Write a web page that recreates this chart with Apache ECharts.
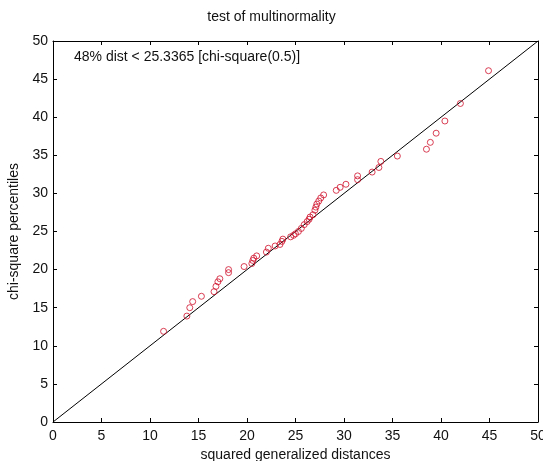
<!DOCTYPE html>
<html>
<head>
<meta charset="utf-8">
<script src="https://cdn.jsdelivr.net/npm/echarts@6/dist/echarts.min.js"></script>
<style>html,body{margin:0;padding:0;background:#fff;}#c{width:543px;height:461px;}</style>
</head>
<body>
<div id="c"></div>
<script>
const distances = [11.4,13.8,14.1,14.4,15.3,16.6,16.8,17.0,17.2,18.1,18.1,19.7,20.5,20.6,20.7,21.0,22.0,22.2,22.9,23.4,23.6,23.7,24.5,24.8,25.0,25.3,25.6,25.9,26.2,26.4,26.5,26.8,27.0,27.1,27.2,27.4,27.6,27.9,29.2,29.6,30.2,31.4,31.4,32.9,33.6,33.8,35.5,38.5,38.9,39.5,40.4,42.0,44.9];
const percentiles = [11.9,13.9,15.0,15.8,16.5,17.1,17.8,18.4,18.8,19.6,20.0,20.4,20.8,21.2,21.5,21.8,22.3,22.8,23.1,23.3,23.7,24.0,24.3,24.5,24.7,25.0,25.4,25.9,26.3,26.6,26.9,27.2,27.8,28.2,28.6,29.0,29.4,29.8,30.4,30.8,31.2,31.8,32.3,32.8,33.4,34.2,34.9,35.8,36.7,37.9,39.5,41.8,46.1];
const refLine = [[0,0],[50,50]];
const ticks = [0,5,10,15,20,25,30,35,40,45,50];

const font = 'Liberation Sans, Arial, sans-serif';
const fs = 14;
const chart = echarts.init(document.getElementById('c'));
const baseAxis = {
  min: 0, max: 50, interval: 5,
  axisLine: {show: true, onZero: false, lineStyle: {color: '#000', width: 1}},
  axisTick: {show: true, inside: true, length: 4, lineStyle: {color: '#000'}},
  splitLine: {show: false},
  axisLabel: {color: '#111', fontFamily: font, fontSize: fs}
};
chart.setOption({
  animation: false,
  backgroundColor: '#fff',
  title: [
    {text: 'test of multinormality', left: 'center', top: 5, textStyle: {fontFamily: font, fontSize: fs, fontWeight: 'normal', color: '#111'}},
    {text: '48% dist < 25.3365 [chi-square(0.5)]', left: 69, top: 45, textStyle: {fontFamily: font, fontSize: fs, fontWeight: 'normal', color: '#111'}}
  ],
  grid: {left: 53, right: 5, top: 41, bottom: 39, containLabel: false, outerBoundsMode: 'none'},
  xAxis: [
    Object.assign({}, baseAxis, {type: 'value', position: 'bottom', name: 'squared generalized distances', nameLocation: 'middle', nameGap: 24, nameTextStyle: {fontFamily: font, fontSize: fs, color: '#111'}, axisLabel: Object.assign({}, baseAxis.axisLabel, {margin: 7})}),
    Object.assign({}, baseAxis, {type: 'value', position: 'top', axisLabel: {show: false}})
  ],
  yAxis: [
    Object.assign({}, baseAxis, {type: 'value', position: 'left', name: 'chi-square percentiles', nameLocation: 'middle', nameGap: 28, nameTextStyle: {fontFamily: font, fontSize: fs, color: '#111'}, axisLabel: Object.assign({}, baseAxis.axisLabel, {margin: 5})}),
    Object.assign({}, baseAxis, {type: 'value', position: 'right', axisLabel: {show: false}})
  ],
  series: [
    {type: 'line', data: refLine, symbol: 'none', lineStyle: {color: '#000', width: 1}, silent: true, z: 1},
    {type: 'scatter', data: distances.map((d, i) => [d, percentiles[i]]), symbol: 'circle', symbolSize: 6,
     itemStyle: {color: 'rgba(0,0,0,0)', borderColor: '#d0102a', borderWidth: 1}, z: 2}
  ]
});
</script>
</body>
</html>
